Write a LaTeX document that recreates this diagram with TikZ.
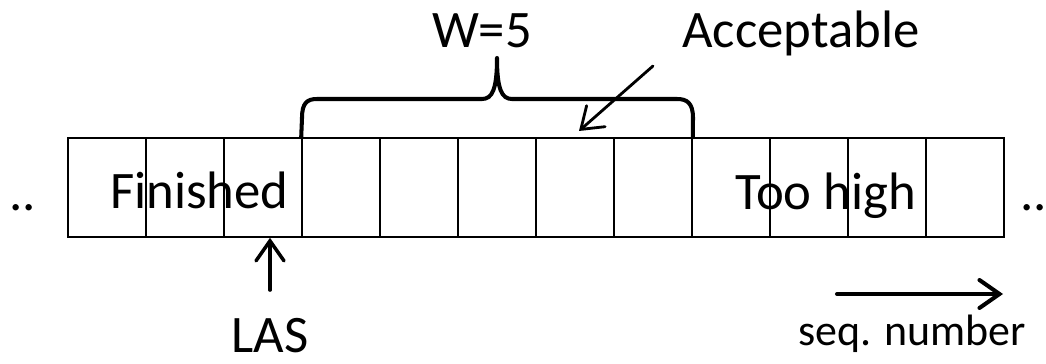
\documentclass[tikz,border=0pt]{standalone}
\usepackage{fontspec}
\setmainfont{Carlito}
\usetikzlibrary{arrows.meta}

\begin{document}
\begin{tikzpicture}[
  cell/.style={draw, minimum width=1.56cm, minimum height=1.98cm, inner sep=0pt, line width=0.9pt},
  lbl/.style={font=\fontsize{30}{36}\selectfont, anchor=base, inner sep=0pt},
  arr/.style={-{Straight Barb[length=4mm, width=5.6mm, line cap=round]}, line width=2pt, line cap=round},
  thick
]
  \useasboundingbox (0,0) rectangle (20.92,-7.28);

  % Cells
  \foreach \i in {1,...,12}
    \node[cell] (c\i) at ({1.36+1.56*(\i-0.5)}, -3.75) {};

  % Labels
  \node[lbl] (dotsL) at (0.46,-4.22) {..};
  \node[lbl] (dotsR) at (20.68,-4.22) {..};
  \node[lbl] (fin) at (3.99,-4.18) {Finished};
  \node[lbl] (high) at (16.51,-4.20) {Too high};
  \node[lbl] (w) at (9.64,-0.96) {W=5};
  \node[lbl] (acc) at (16.02,-0.96) {Acceptable};
  \node[lbl] (las) at (5.40,-7.06) {LAS};
  \node[lbl, font=\fontsize{25}{30}\selectfont] (seq) at (18.24,-6.92) {seq. number};

  % Brace over the window
  \draw[line width=2.3pt, line cap=round, line join=round]
    (c4.north west) -- (6.04,-2.36) .. controls (6.04,-2.06) and (6.14,-1.98) .. (6.34,-1.98)
    -- (9.64,-1.98) .. controls (9.84,-1.98) and (9.94,-1.80) .. (9.94,-1.16)
    .. controls (9.94,-1.80) and (10.04,-1.98) .. (10.24,-1.98)
    -- (13.54,-1.98) .. controls (13.74,-1.98) and (13.86,-2.06) .. (13.86,-2.36)
    -- (c8.north east);

  % Arrows
  \coordinate (accTail) at (13.06,-1.32);
  \coordinate (accTip) at (11.58,-2.62);
  \draw[arr, line width=1.6pt] (accTail) -- (accTip);

  \draw[arr, shorten <=0.56cm] (las.north) -- (las.north |- c3.south);

  \coordinate (seqA) at (16.74,-5.88);
  \coordinate (seqB) at (20.06,-5.88);
  \draw[arr, line width=2.3pt] (seqA) -- (seqB);
\end{tikzpicture}
\end{document}
